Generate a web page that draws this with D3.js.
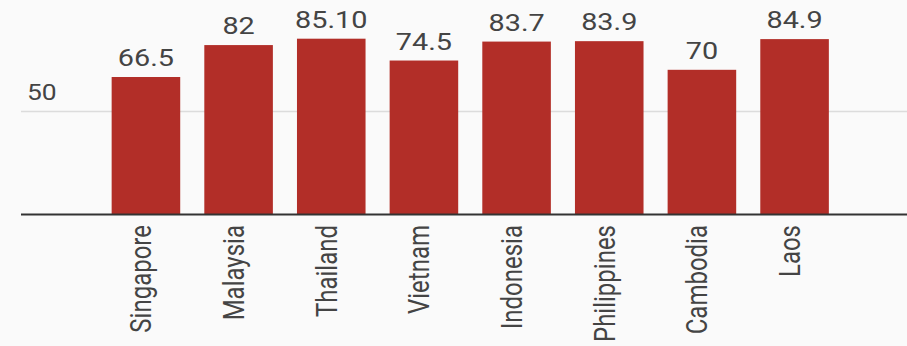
<!DOCTYPE html>
<html>
<head>
<meta charset="utf-8">
<script src="https://cdn.jsdelivr.net/npm/d3@7/dist/d3.min.js"></script>
<style>
  html, body { margin: 0; padding: 0; background: #fafafa; }
  svg { display: block; }
  text { font-family: Roboto, "Noto Sans", sans-serif; fill: #444; }
</style>
</head>
<body>
<svg id="chart" width="907" height="346"></svg>
<script>
const categories = ["Singapore", "Malaysia", "Thailand", "Vietnam", "Indonesia", "Philippines", "Cambodia", "Laos"];
const values = [66.5, 82, 85.1, 74.5, 83.7, 83.9, 70, 84.9];
const valueLabels = ["66.5", "82", "85.10", "74.5", "83.7", "83.9", "70", "84.9"];
const yTicks = [50];

const W = 907, H = 346;
const baseY = 214;
const stretch = 1.2;

const svg = d3.select("#chart");

const x = d3.scaleBand()
  .domain(categories)
  .range([99.6, 840.9])
  .paddingInner(0.26)
  .paddingOuter(0.13);

const y = d3.scaleLinear()
  .domain([0, 100])
  .range([baseY, 8]);

// gridline via axis
const gAxisY = svg.append("g")
  .attr("transform", "translate(21,0)")
  .call(d3.axisLeft(y).tickValues(yTicks).tickSize(-(W - 21)).tickFormat(""));
gAxisY.select(".domain").remove();
gAxisY.selectAll(".tick line").attr("stroke", "#dcdcdc").attr("stroke-width", 1.5);

// y tick label
svg.selectAll(".ylab").data(yTicks).enter().append("text")
  .attr("class", "ylab")
  .attr("transform", d => `translate(27,${y(d) - 11}) scale(${stretch},1)`)
  .attr("font-size", 22)
  .attr("text-anchor", "start")
  .text(d => d);

// bars
svg.selectAll(".bar").data(values).enter().append("rect")
  .attr("class", "bar")
  .attr("x", (d, i) => x(categories[i]))
  .attr("width", x.bandwidth())
  .attr("y", d => y(d))
  .attr("height", d => y(0) - y(d))
  .attr("fill", "#b22e28");

// value labels
svg.selectAll(".vlab").data(values).enter().append("text")
  .attr("class", "vlab")
  .attr("transform", (d, i) => `translate(${x(categories[i]) + x.bandwidth() / 2},${y(d) - 11}) scale(${stretch},1)`)
  .attr("font-size", 24)
  .attr("text-anchor", "middle")
  .text((d, i) => valueLabels[i]);

// baseline
svg.append("line")
  .attr("x1", 21).attr("x2", W)
  .attr("y1", baseY + 0.5).attr("y2", baseY + 0.5)
  .attr("stroke", "#333").attr("stroke-width", 2);

// x axis labels
const gAxisX = svg.append("g")
  .attr("transform", `translate(0,${baseY})`)
  .call(d3.axisBottom(x).tickSize(0).tickPadding(0));
gAxisX.select(".domain").remove();
gAxisX.selectAll(".tick text")
  .attr("font-size", 24)
  .attr("fill", "#444")
  .attr("font-family", "Roboto, sans-serif")
  .attr("text-anchor", "end")
  .attr("dy", null)
  .attr("y", null)
  .attr("transform", `translate(5.5,11) scale(${stretch},1) rotate(-90)`);
</script>
</body>
</html>
